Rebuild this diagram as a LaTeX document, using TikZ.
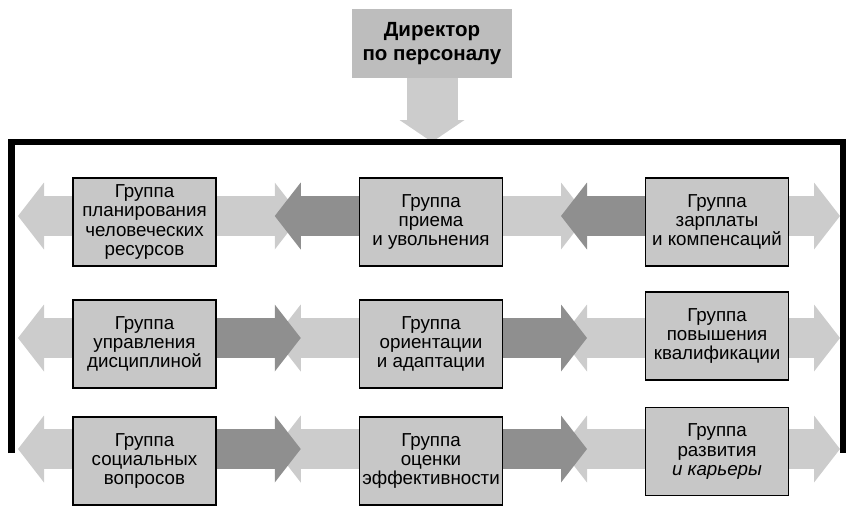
\documentclass[tikz,border=0pt]{standalone}
\usepackage{fontspec}
\setmainfont{Liberation Sans}
\usetikzlibrary{arrows.meta, calc}

\definecolor{screenlight}{gray}{0.80}
\definecolor{screendark}{gray}{0.56}
\definecolor{boxfill}{gray}{0.78}
\definecolor{chieffill}{gray}{0.74}

\begin{document}
\begin{tikzpicture}[
  x=0.03cm, y=-0.03cm,
  font=\fontsize{16}{16.4}\selectfont,
  group/.style    = {draw=black, line width=1.2pt, fill=boxfill,
                     minimum width=4.3cm, minimum height=2.64cm,
                     align=center, inner sep=2pt},
  chief/.style    = {fill=chieffill, minimum width=4.8cm, minimum height=2.07cm,
                     align=center, font=\fontsize{17.5}{21}\selectfont\bfseries},
  flow/.style     = {line width=1.2cm, color=screenlight,
                     -{Triangle[length=0.78cm, width=2.01cm, line width=0pt]}},
  mainflow/.style = {flow, color=screendark},
  downflow/.style = {flow, line width=1.53cm,
                     -{Triangle[length=0.66cm, width=1.95cm, line width=0pt]}},
  frame/.style    = {line width=0.19cm, line join=miter},
]
\useasboundingbox (0,0) rectangle (846,505);

% =============================================================
% Director and the frame
% =============================================================
\node[chief] (dir) at (432,43.5) {Директор\\по персоналу};

\coordinate (ftop) at (432,142);
\coordinate (fl)   at (11.5,453);
\coordinate (fr)   at (843,453);

% =============================================================
% Groups (3 x 3)
% =============================================================
\node[group] (g11) at (144.5,222) {Группа\\планирования\\человеческих\\ресурсов};
\node[group] (g12) at (431,222)   {Группа\\приема\\и увольнения};
\node[group] (g13) at (717,222)   {Группа\\зарплаты\\и компенсаций};

\node[group] (g21) at (144.5,344) {Группа\\управления\\дисциплиной};
\node[group] (g22) at (431,344)   {Группа\\ориентации\\и адаптации};
\node[group] (g23) at (717,336)   {Группа\\повышения\\квалификации};

\node[group] (g31) at (144.5,461) {Группа\\социальных\\вопросов};
\node[group] (g32) at (431,461)   {Группа\\оценки\\эффективности};
\node[group] (g33) at (717,451.5) {Группа\\развития\\\textit{и карьеры}};

% row lines and arrow ends
\coordinate (r1) at (0,216);
\coordinate (r2) at (0,338);
\coordinate (r3) at (0,449);
\coordinate (w1) at (18,216);  \coordinate (e1) at (840,216);
\coordinate (w2) at (18,338);  \coordinate (e2) at (840,338);
\coordinate (w3) at (18,449);  \coordinate (e3) at (840,449);

% crossing heads half way between the boxes
\coordinate (p11) at ($(g11.east |- r1)!0.5!(g12.west |- r1) + (-13,0)$);
\coordinate (q11) at ($(g11.east |- r1)!0.5!(g12.west |- r1) + (13,0)$);
\coordinate (p12) at ($(g12.east |- r1)!0.5!(g13.west |- r1) + (-13,0)$);
\coordinate (q12) at ($(g12.east |- r1)!0.5!(g13.west |- r1) + (13,0)$);
\coordinate (p21) at ($(g21.east |- r2)!0.5!(g22.west |- r2) + (-13,0)$);
\coordinate (q21) at ($(g21.east |- r2)!0.5!(g22.west |- r2) + (13,0)$);
\coordinate (p22) at ($(g22.east |- r2)!0.5!(g23.west |- r2) + (-13,0)$);
\coordinate (q22) at ($(g22.east |- r2)!0.5!(g23.west |- r2) + (13,0)$);
\coordinate (p31) at ($(g31.east |- r3)!0.5!(g32.west |- r3) + (-13,0)$);
\coordinate (q31) at ($(g31.east |- r3)!0.5!(g32.west |- r3) + (13,0)$);
\coordinate (p32) at ($(g32.east |- r3)!0.5!(g33.west |- r3) + (-13,0)$);
\coordinate (q32) at ($(g32.east |- r3)!0.5!(g33.west |- r3) + (13,0)$);

% =============================================================
% Arrows
% =============================================================
\draw[downflow] (dir.south) -- (ftop);

% --- row 1: towards the left ---
\draw[flow] (g11.west |- r1) -- (w1);
\draw[flow] (g13.east |- r1) -- (e1);
\draw[flow] (g11.east |- r1) -- (q11);
\draw[mainflow] (g12.west |- r1) -- (p11);
\draw[flow] (g12.east |- r1) -- (q12);
\draw[mainflow] (g13.west |- r1) -- (p12);

% --- row 2: towards the right ---
\draw[flow] (g21.west |- r2) -- (w2);
\draw[flow] (g23.east |- r2) -- (e2);
\draw[flow] (g22.west |- r2) -- (p21);
\draw[mainflow] (g21.east |- r2) -- (q21);
\draw[flow] (g23.west |- r2) -- (p22);
\draw[mainflow] (g22.east |- r2) -- (q22);

% --- row 3: towards the right ---
\draw[flow] (g31.west |- r3) -- (w3);
\draw[flow] (g33.east |- r3) -- (e3);
\draw[flow] (g32.west |- r3) -- (p31);
\draw[mainflow] (g31.east |- r3) -- (q31);
\draw[flow] (g33.west |- r3) -- (p32);
\draw[mainflow] (g32.east |- r3) -- (q32);

% frame
\draw[frame] (fl) |- (ftop) -| (fr);

\end{tikzpicture}
\end{document}
